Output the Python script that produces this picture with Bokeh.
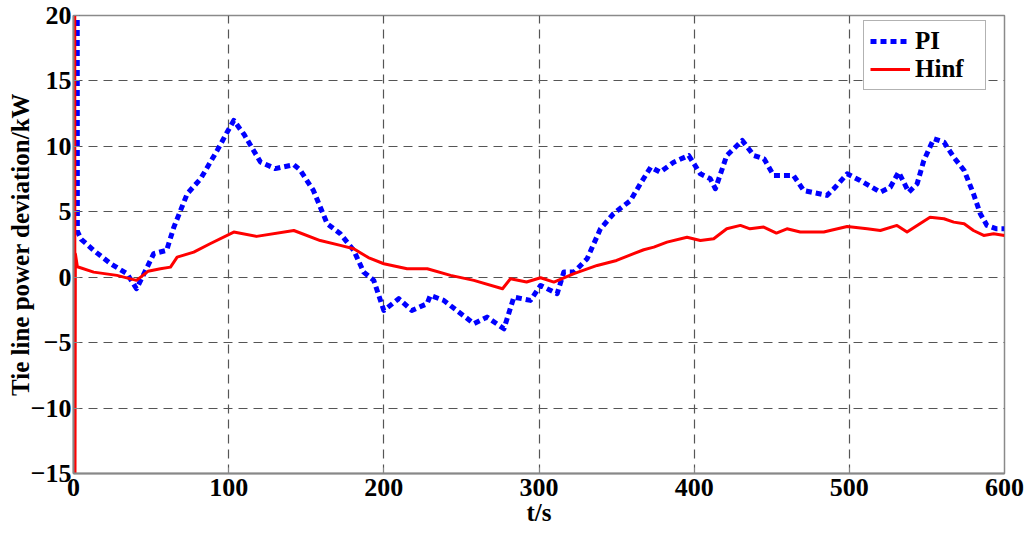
from bokeh.plotting import figure
from bokeh.models import Range1d, FixedTicker, Legend, LegendItem
from bokeh.embed import file_html
from bokeh.resources import INLINE

# ---- data ----
pi_t = [2.4, 2.5, 5, 13, 24, 34.5, 40.6, 46, 51.7, 60, 64.7, 73.3, 81.9, 92.6, 99,
        103.3, 110, 120.5, 130, 142, 146, 154.6, 163.5, 172, 180.6, 187, 193.5, 200,
        209.6, 218, 227.8, 230, 238.6, 247, 258, 266.5, 277.4, 283.8, 294.5, 301,
        311.7, 316, 322.5, 331, 339.6, 348, 359, 365.3, 372, 378, 386.8, 396.5, 404,
        410.4, 413.7, 421, 431, 438.4, 445, 451.2, 464, 470.6, 485.6, 490, 498.6, 507,
        520, 526.4, 531.8, 538.3, 543.7, 548, 554.4, 561, 567.3, 574, 580, 584.4,
        588.7, 595, 600]
pi_v = [25, 3.5, 2.9, 2.05, 1.03, 0.27, -0.88, 0.4, 1.8, 2.05, 3.83, 6.38, 7.52, 9.69,
        11.08, 11.98, 10.9, 8.8, 8.3, 8.6, 8.2, 6.63, 4.09, 3.32, 2.05, 0.39, -0.24,
        -2.54, -1.64, -2.54, -2.03, -1.39, -1.77, -2.54, -3.55, -3.05, -3.94, -1.52,
        -1.77, -0.63, -1.26, 0.39, 0.39, 1.41, 3.7, 4.85, 5.87, 7.14, 8.41, 8.03, 8.79,
        9.3, 7.9, 7.52, 6.76, 9.3, 10.45, 9.3, 9.05, 7.78, 7.78, 6.63, 6.25, 6.76, 7.9,
        7.39, 6.5, 6.88, 8.03, 6.5, 7.14, 8.92, 10.58, 10.32, 9.17, 8.16, 6.38, 4.85,
        3.96, 3.7, 3.7]

hinf_t = [0.8, 0.9, 1.2, 2.5, 13, 28, 40.6, 48, 56, 62.5, 66.8, 77.5, 88, 103.3, 118,
          142, 159, 172, 180.6, 190, 200, 215, 228, 243, 258, 276.5, 281.6, 292, 301,
          309.6, 322.5, 337.5, 350, 361, 367.5, 374, 382.5, 395.4, 404, 412.6, 421,
          429.8, 436, 444.8, 453, 459.8, 468.4, 483.5, 498.6, 511.5, 520, 530.7, 537.2,
          543.7, 552, 561, 567.3, 574, 580, 586.6, 593, 600]
hinf_v = [25, -20, 1.8, 0.8, 0.39, 0.14, -0.24, 0.45, 0.65, 0.77, 1.54, 1.92, 2.56,
          3.45, 3.12, 3.57, 2.8, 2.43, 2.18, 1.5, 1.03, 0.65, 0.65, 0.14, -0.24, -0.88,
          -0.12, -0.37, -0.04, -0.37, 0.27, 0.9, 1.28, 1.8, 2.1, 2.3, 2.68, 3.06, 2.81,
          2.94, 3.7, 3.96, 3.7, 3.83, 3.37, 3.7, 3.45, 3.45, 3.88, 3.7, 3.57, 3.96, 3.45,
          3.96, 4.59, 4.47, 4.21, 4.09, 3.57, 3.19, 3.32, 3.19]

x_ticks = [0, 100, 200, 300, 400, 500, 600]
y_ticks = [-15, -10, -5, 0, 5, 10, 15, 20]
series_names = ["PI", "Hinf"]

FONT = "Liberation Serif"

p = figure(width=1024, height=534, output_backend="svg", toolbar_location=None,
           x_range=Range1d(0, 600), y_range=Range1d(-15, 20),
           min_border_left=73, min_border_right=20, min_border_top=15,
           min_border_bottom=61)
p.background_fill_color = "white"
p.border_fill_color = "white"
p.outline_line_color = "#8a8a8a"
p.outline_line_width = 1.5

r_pi = p.line(pi_t, pi_v, line_color="#0000FF", line_width=5, line_dash="6 4",
              line_cap="butt", line_join="round")
r_hinf = p.line(hinf_t, hinf_v, line_color="#FF0000", line_width=3, line_join="round")

for ax in (p.xaxis[0], p.yaxis[0]):
    ax.axis_line_color = "#888888"
    ax.axis_line_width = 2
    ax.major_tick_line_color = "#888888"
    ax.major_tick_in = 6
    ax.major_tick_out = 0
    ax.minor_tick_line_color = None
    ax.major_label_text_font = FONT
    ax.major_label_text_font_style = "bold"
    ax.major_label_text_font_size = "26px"
    ax.major_label_text_color = "black"
    ax.axis_label_text_font = FONT
    ax.axis_label_text_font_style = "bold"
    ax.axis_label_text_font_size = "25px"
    ax.axis_label_text_color = "black"

p.xaxis[0].ticker = FixedTicker(ticks=x_ticks)
p.yaxis[0].ticker = FixedTicker(ticks=y_ticks)
p.xaxis[0].axis_label = "t/s"
p.yaxis[0].axis_label = "Tie line power deviation/kW"
p.xaxis[0].major_label_standoff = 5
p.xaxis[0].axis_label_standoff = 0
p.yaxis[0].major_label_standoff = 2
p.yaxis[0].axis_label_standoff = -6

for g in (p.xgrid[0], p.ygrid[0]):
    g.grid_line_color = "#555555"
    g.grid_line_dash = "9 6"
    g.grid_line_width = 1.2

legend = Legend(items=[LegendItem(label=series_names[0], renderers=[r_pi]),
                       LegendItem(label=series_names[1], renderers=[r_hinf])],
                location=(790, 383))
legend.label_text_font = FONT
legend.label_text_font_style = "bold"
legend.label_text_font_size = "25px"
legend.label_text_color = "black"
legend.glyph_width = 40
legend.glyph_height = 24
legend.label_height = 24
legend.label_width = 64
legend.label_standoff = 5
legend.spacing = 0
legend.padding = 6
legend.margin = 0
legend.border_line_color = "#666666"
legend.border_line_width = 1
legend.background_fill_color = "white"
legend.background_fill_alpha = 1
p.add_layout(legend, "center")

open("out.html", "w").write(file_html(p, INLINE))
